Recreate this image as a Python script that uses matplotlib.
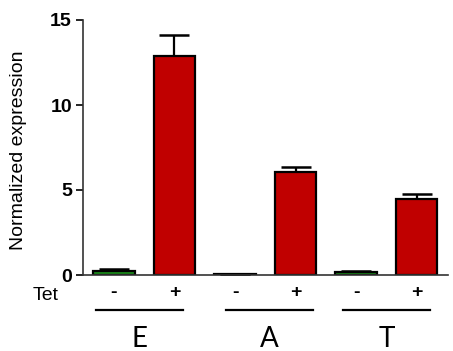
import matplotlib
matplotlib.use("Agg")
import matplotlib.pyplot as plt

plt.rcParams['font.family'] = ['Liberation Sans', 'DejaVu Sans']

groups = ["E", "A", "T"]
tet_labels = ["-", "+", "-", "+", "-", "+"]
values = [0.22, 12.9, 0.05, 6.03, 0.2, 4.5]
errors = [0.12, 1.2, 0.02, 0.3, 0.05, 0.25]
colors = ["#1a8a1a", "#c00000", "#1a8a1a", "#c00000", "#1a8a1a", "#c00000"]
yticks = [0, 5, 10, 15]

fig = plt.figure(figsize=(4.53, 3.51), dpi=100)
W, H = 453, 351
ax = fig.add_axes([83 / W, 1 - 275 / H, (448 - 83) / W, (275 - 20) / H])

x = list(range(len(values)))
ax.bar(x, values, width=0.69, color=colors, edgecolor="black", linewidth=1.6, zorder=2)
for xi, v, e in zip(x, values, errors):
    ax.errorbar([xi], [v], yerr=[[0], [e]], fmt="none", ecolor="black",
                elinewidth=1.6, capsize=11, capthick=1.8, zorder=1)

ax.set_xlim(-0.512, 5.52)
ax.set_ylim(0, 15)
ax.set_yticks(yticks)
ax.set_yticklabels([str(t) for t in yticks], fontsize=14, fontweight="bold")
ax.set_xticks([])
ax.tick_params(axis="y", length=5, width=1.2, pad=3)
for s in ["top", "right"]:
    ax.spines[s].set_visible(False)
for s in ["left", "bottom"]:
    ax.spines[s].set_linewidth(1.2)
    ax.spines[s].set_color("#333333")
ax.set_ylabel("Normalized expression", fontsize=14)
ax.yaxis.set_label_coords(-0.153, 0.49)

trans = ax.get_xaxis_transform()
for xi, lab in zip(x, tet_labels):
    ax.text(xi, -0.07, lab, transform=trans, ha="center", va="center",
            fontsize=14, fontweight="bold")
fig.text(46 / W, 1 - 295 / H, "Tet", ha="center", va="center", fontsize=14)

line_starts = [-0.30, 1.85, 3.79]
for gi, g in enumerate(groups):
    x0 = line_starts[gi]
    x1 = x0 + 1.44
    ax.plot([x0, x1], [-0.137, -0.137], transform=trans, color="black",
            linewidth=1.6, clip_on=False)
    ax.text((x0 + x1) / 2, -0.25, g, transform=trans, ha="center", va="center",
            fontsize=20, family=["Lato", "DejaVu Sans"])

fig.savefig("out.png", dpi=100)
